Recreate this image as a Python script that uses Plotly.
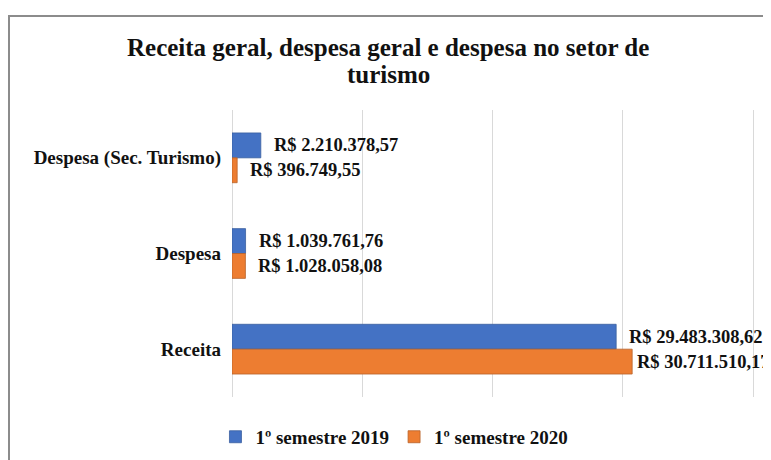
import plotly.graph_objects as go

categories = ["Despesa (Sec. Turismo)", "Despesa", "Receita"]
sem_2019 = [2210378.57, 1039761.76, 29483308.62]
sem_2020 = [396749.55, 1028058.08, 30711510.17]
series_names = ["1º semestre 2019", "1º semestre 2020"]
title_lines = ["Receita geral, despesa geral e despesa no setor de", "turismo"]
colors = ["#4472C4", "#ED7D31"]
edges = ["#3a5f9f", "#b8622a"]


def brl(v):
    s = f"{v:,.2f}"
    s = s.replace(",", "X").replace(".", ",").replace("X", ".")
    return "R$ " + s


FONT = "Liberation Serif, Times New Roman, serif"

# plot area in figure pixels
L, T, B = 224, 102, 389
W, H = 771 - L, B - T

fig = go.Figure()
for name, vals, c, e in zip(series_names, [sem_2019, sem_2020], colors, edges):
    fig.add_trace(go.Bar(
        y=categories, x=vals, name=name, orientation="h",
        marker=dict(color=c, line=dict(color=e, width=0.8)),
    ))

# value labels next to the bar ends (Excel pulls the widest one in a bit)
vmax = max(sem_2019 + sem_2020)
for j, vals in enumerate([sem_2019, sem_2020]):
    for cat, v in zip(categories, vals):
        fig.add_annotation(
            x=v, y=cat, xref="x", yref="y", text=brl(v), showarrow=False,
            xanchor="left", yanchor="middle",
            xshift=3 if v == vmax else 11, yshift=12.5 if j == 0 else -12.5,
            font=dict(family=FONT, size=18.5, color="#111", weight="bold"),
        )

# title, two lines placed separately to get the tighter line spacing
for k, line in enumerate(title_lines):
    fy = 39 + 28 * k
    fig.add_annotation(
        x=(380 - L) / W, y=(B - fy) / H, xref="paper", yref="paper",
        text=line, showarrow=False, xanchor="center", yanchor="middle",
        font=dict(family=FONT, size=25, color="#111", weight="bold"),
    )

# chart frame
fig.add_shape(type="rect", xref="paper", yref="paper",
              x0=(1 - L) / W, y0=-0.4, x1=1.2, y1=(B - 8) / H,
              line=dict(color="#8c8c8c", width=2), layer="below")

fig.update_layout(
    width=771, height=460,
    margin=dict(l=L, r=0, t=T, b=460 - B, autoexpand=False),
    paper_bgcolor="white", plot_bgcolor="white",
    barmode="group", bargap=0.48, bargroupgap=0,
    xaxis=dict(range=[0, 41980000], dtick=10000000, showticklabels=False,
               showgrid=True, gridcolor="#d9d9d9", gridwidth=1,
               zeroline=True, zerolinecolor="#d9d9d9", zerolinewidth=1, fixedrange=True),
    yaxis=dict(autorange="reversed", showgrid=False, ticks="", automargin=False,
               ticklabelstandoff=10,
               tickfont=dict(family=FONT, size=19, color="#111", weight="bold")),
    legend=dict(orientation="h", x=0.297, xanchor="center",
                y=-0.139, yanchor="middle",
                font=dict(family=FONT, size=19, color="#111", weight="bold"),
                itemwidth=30),
    showlegend=True,
)

fig.write_html("out.html")
